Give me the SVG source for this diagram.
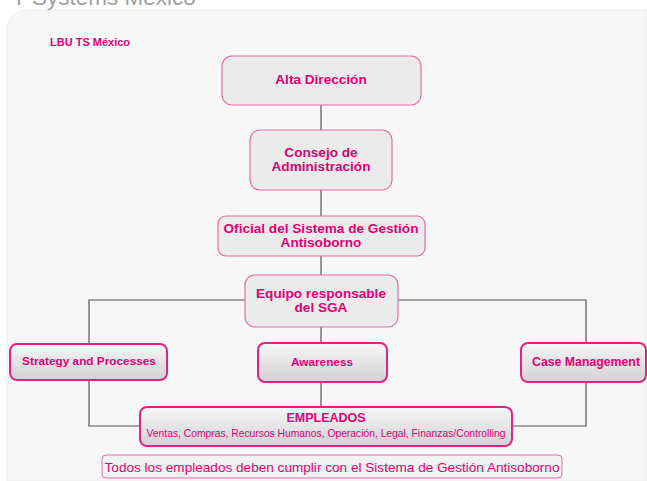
<svg xmlns="http://www.w3.org/2000/svg" width="647" height="481" viewBox="0 0 647 481">
<defs>
<linearGradient id="g" x1="0" y1="0" x2="0" y2="1">
<stop offset="0" stop-color="#f6f6f6"/>
<stop offset="1" stop-color="#d2d2d2"/>
</linearGradient>
<style>
.t{font-family:"Liberation Sans",Arial,sans-serif;fill:#e20074;text-anchor:middle}
.b{font-weight:bold;font-size:13.6px}
.top{fill:#ebebeb;stroke:#ea6aa8;stroke-width:1.2}
.bot{fill:url(#g);stroke:#e2237f;stroke-width:2}
.c{fill:none;stroke:#555;stroke-width:1.2}
</style>
</defs>
<rect width="647" height="481" fill="#ffffff"/>
<path d="M7,481 V30 A20,20 0 0 1 27,10 H647 V481 Z" fill="#f7f7f7" stroke="#ececec" stroke-width="1"/>
<text x="12" y="5" font-family="'Liberation Sans',Arial,sans-serif" font-size="22.5" fill="#a0a0a0">T-Systems México</text>
<g id="connectors">
<path class="c" d="M321,105 V130 M321,190 V216 M321,256 V275 M321,327 V343 M321,382 V407"/>
<path class="c" d="M245,300 H89 V344 M398,300 H586 V343"/>
<path class="c" d="M89,380 V426 H140 M586,382 V426 H512"/>
</g>
<g id="lbu"><text class="t" x="50" y="46" font-size="11" font-weight="bold" style="text-anchor:start">LBU TS México</text></g>
<g id="alta"><rect class="top" x="222" y="56" width="199" height="49" rx="10"/><text class="t b" x="321" y="84">Alta Dirección</text></g>
<g id="consejo"><rect class="top" x="250" y="130" width="142" height="60" rx="10"/><text class="t b" x="321" y="157">Consejo de</text><text class="t b" x="321" y="171">Administración</text></g>
<g id="oficial"><rect class="top" x="218" y="216" width="207" height="40" rx="8"/><text class="t b" x="321" y="233">Oficial del Sistema de Gestión</text><text class="t b" x="321" y="247">Antisoborno</text></g>
<g id="equipo"><rect class="top" x="245" y="275" width="153" height="52" rx="10"/><text class="t b" x="321" y="298">Equipo responsable</text><text class="t b" x="321" y="312">del SGA</text></g>
<g id="strategy"><rect class="bot" x="10" y="344" width="157" height="36" rx="7"/><text class="t" x="89" y="365" font-size="11.8" font-weight="bold">Strategy and Processes</text></g>
<g id="awareness"><rect class="bot" x="258" y="343" width="129" height="39" rx="7"/><text class="t" x="322" y="366" font-size="11.8" font-weight="bold">Awareness</text></g>
<g id="case"><rect class="bot" x="521" y="343" width="125" height="39" rx="7"/><text class="t" x="586" y="366" font-size="12.3" font-weight="bold">Case Management</text></g>
<g id="empleados"><rect class="bot" x="140" y="407" width="372" height="39" rx="7"/><text class="t" x="326" y="422" font-size="12.5" font-weight="bold">EMPLEADOS</text><text class="t" x="326" y="437" font-size="10.3">Ventas, Compras, Recursos Humanos, Operación, Legal, Finanzas/Controlling</text></g>
<g id="nota"><rect x="102" y="455" width="460" height="23" rx="4" fill="#f2f2f2" stroke="#ea6aa8" stroke-width="1"/><text class="t" x="332" y="472" font-size="13.6">Todos los empleados deben cumplir con el Sistema de Gestión Antisoborno</text></g>
</svg>
